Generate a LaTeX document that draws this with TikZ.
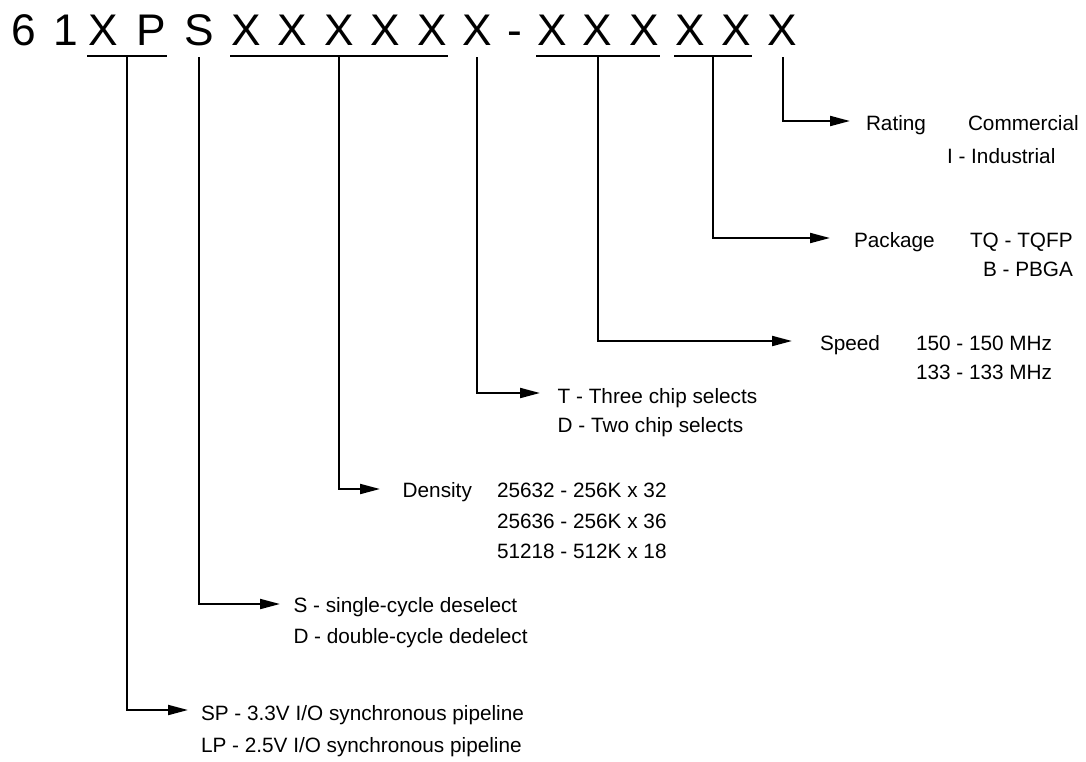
\documentclass[tikz,border=0pt]{standalone}
\usepackage{fontspec}
\setmainfont{Liberation Sans}
\usetikzlibrary{arrows.meta,positioning,calc}

\begin{document}
\begin{tikzpicture}[
    x=1pt, y=-1pt,
    >={Triangle[length=20pt,width=10pt]},
    line width=2pt,
    digit/.style={inner sep=0pt,anchor=base,font=\fontsize{44.3}{50}\selectfont},
    lbl/.style={inner sep=0pt,anchor=base west,font=\fontsize{20.75}{25}\selectfont},
    uline/.style={draw=black},
    lead/.style={->,draw=black},
]
\useasboundingbox (0,0) rectangle (1086,761);

% ---- part number ----
\foreach \ch/\cx [count=\i] in {6/23.5,1/66,X/103,P/151.7,S/199,X/246,X/292.5,X/339,X/385,X/432,X/477,-/515,X/552,X/597.5,X/644,X/690,X/736,X/782.5}
  \node[digit] (c\i) at (\cx,45) {\ch};

% underlines over the field groups
\draw[uline] ([yshift=-11pt]c3.base west) -- ([yshift=-11pt]c4.base east) coordinate[midway] (g1);
\draw[uline] ([yshift=-11pt]c6.base west) -- ([yshift=-11pt]c10.base east) coordinate[midway] (g3);
\draw[uline] ([yshift=-11pt]c13.base west) -- ([yshift=-11pt]c15.base east) coordinate[midway] (g5);
\draw[uline] ([yshift=-11pt]c16.base west) -- ([yshift=-11pt]c17.base east) coordinate[midway] (g6);
\coordinate (g2) at ([yshift=-12pt]c5.base);
\coordinate (g4) at ([yshift=-12pt]c11.base);
\coordinate (g7) at ([yshift=-12pt]c18.base);

% ---- field descriptions ----
\node[lbl] (rat)  at (865,130) {Rating};
\node[lbl] (rat1) at (967,130) {Commercial};
\node[lbl] (rat2) at (946,163) {I - Industrial};

\node[lbl] (pkg)  at (853,247) {Package};
\node[lbl] (pkg1) at (969,247) {TQ - TQFP};
\node[lbl] (pkg2) at (982,276) {B - PBGA};

\node[lbl] (spd)  at (819,350) {Speed};
\node[lbl] (spd1) at (915,350) {150 - 150 MHz};
\node[lbl] (spd2) at (915,379) {133 - 133 MHz};

\node[lbl] (cs)   at (556.7,403) {T - Three chip selects};
\node[lbl] (csd)  at (556.7,432) {D - Two chip selects};

\node[lbl] (den)  at (401.7,497) {Density};
\node[lbl] (den1) at (496,497) {25632 - 256K x 32};
\node[lbl] (den2) at (496,528) {25636 - 256K x 36};
\node[lbl] (den3) at (496,558) {51218 - 512K x 18};

\node[lbl] (cyc)  at (292.5,612) {S - single-cycle deselect};
\node[lbl] (cycd) at (292.5,643) {D - double-cycle dedelect};

\node[lbl] (io)   at (200,720) {SP - 3.3V I/O synchronous pipeline};
\node[lbl] (iol)  at (200,752) {LP - 2.5V I/O synchronous pipeline};

% ---- leads ----
\draw[lead] (g1) |- ([shift={(-12pt,10pt)}]io.base west);
\draw[lead] (g2) |- ([shift={(-12.5pt,8pt)}]cyc.base west);
\draw[lead] (g3) |- ([shift={(-21.7pt,8pt)}]den.base west);
\draw[lead] (g4) |- ([shift={(-16.7pt,10pt)}]cs.base west);
\draw[lead] (g5) |- ([shift={(-27pt,9pt)}]spd.base west);
\draw[lead] (g6) |- ([shift={(-23pt,9pt)}]pkg.base west);
\draw[lead] (g7) |- ([shift={(-15pt,9pt)}]rat.base west);
\end{tikzpicture}
\end{document}
